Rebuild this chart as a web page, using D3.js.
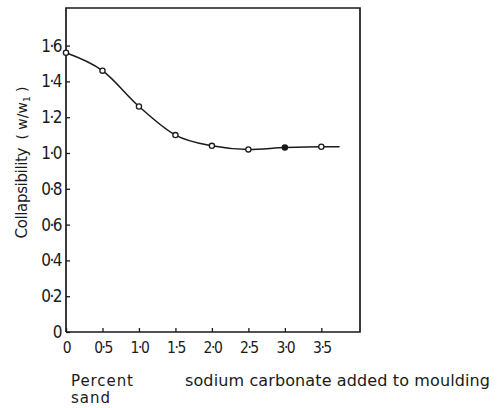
<!DOCTYPE html>
<html>
<head>
<meta charset="utf-8">
<script src="https://cdn.jsdelivr.net/npm/d3@7"></script>
<style>
  html, body { margin: 0; padding: 0; background: #fff; }
  svg text { font-family: "DejaVu Sans", sans-serif; fill: #1a1a1a; }
  svg .tick text { font-family: "DejaVu Sans Condensed", "DejaVu Sans", sans-serif; }
</style>
</head>
<body>
<svg id="chart" width="497" height="408"></svg>
<script>
// Sodium carbonate added (percent of moulding sand) and measured collapsibility
const sodaPercent = [0, 0.5, 1.0, 1.5, 2.0, 2.5, 3.0, 3.5];
const collapsibility = [1.56, 1.46, 1.26, 1.10, 1.04, 1.02, 1.03, 1.035];
// The fitted curve carries on a little past the last measurement
const curveEnd = { x: 3.75, y: 1.035 };

const xTicks = [0, 0.5, 1.0, 1.5, 2.0, 2.5, 3.0, 3.5];
const xTickLabels = ["0", "0\u00B75", "1\u00B70", "1\u00B75", "2\u00B70", "2\u00B75", "3\u00B70", "3\u00B75"];
const yTicks = [0, 0.2, 0.4, 0.6, 0.8, 1.0, 1.2, 1.4, 1.6];
const yTickLabels = ["0", "0\u00B72", "0\u00B74", "0\u00B76", "0\u00B78", "1\u00B70", "1\u00B72", "1\u00B74", "1\u00B76"];

const svg = d3.select("#chart");
const plotLeft = 66, plotRight = 360, plotTop = 8, plotBottom = 332;

const x = d3.scaleLinear().domain([0, 4.03]).range([plotLeft, plotRight]);
const y = d3.scaleLinear().domain([0, 1.81]).range([plotBottom, plotTop]);

const ink = "#1a1a1a";

// Frame: left, top and right sides plus the baseline
svg.append("path")
  .attr("d", `M${plotLeft},${plotBottom}V${plotTop}H${plotRight}V${plotBottom}H${plotLeft}`)
  .attr("fill", "none").attr("stroke", ink).attr("stroke-width", 1.7);

// Y axis with inward ticks
const yAxis = d3.axisLeft(y)
  .tickValues(yTicks)
  .tickSize(-4)
  .tickPadding(5)
  .tickFormat((d, i) => yTickLabels[i]);
const gy = svg.append("g").attr("transform", `translate(${plotLeft},0)`).call(yAxis);
gy.select(".domain").remove();
gy.selectAll(".tick line").attr("stroke", ink).attr("stroke-width", 1.3);
gy.selectAll(".tick text").attr("font-size", 17).attr("fill", ink).attr("letter-spacing", -1.5);

// X axis with inward ticks
const xAxis = d3.axisBottom(x)
  .tickValues(xTicks)
  .tickSize(-4)
  .tickPadding(10)
  .tickFormat((d, i) => xTickLabels[i]);
const gx = svg.append("g").attr("transform", `translate(0,${plotBottom})`).call(xAxis);
gx.select(".domain").remove();
gx.selectAll(".tick line").attr("stroke", ink).attr("stroke-width", 1.3);
gx.selectAll(".tick text").attr("font-size", 15.5).attr("fill", ink).attr("letter-spacing", -1.5);

// Smooth fitted curve
const curvePts = sodaPercent.map((d, i) => ({ x: d, y: collapsibility[i] })).concat([curveEnd]);
const line = d3.line()
  .x(d => x(d.x))
  .y(d => y(d.y))
  .curve(d3.curveMonotoneX);
svg.append("path")
  .datum(curvePts)
  .attr("d", line)
  .attr("fill", "none")
  .attr("stroke", ink)
  .attr("stroke-width", 1.5);

// Measured points as small open circles (the 3.0 % reading is printed solid)
svg.selectAll("circle.pt")
  .data(sodaPercent.map((d, i) => ({ x: d, y: collapsibility[i], solid: d === 3.0 })))
  .join("circle")
  .attr("class", "pt")
  .attr("cx", d => x(d.x))
  .attr("cy", d => y(d.y))
  .attr("r", 2.6)
  .attr("fill", d => d.solid ? ink : "#fff")
  .attr("stroke", ink)
  .attr("stroke-width", 1.3);

// Y axis title, in two pieces with a wide gap between them
svg.append("text")
  .attr("transform", "translate(27,193) rotate(-90)")
  .attr("text-anchor", "middle")
  .attr("font-size", 15)
  .attr("textLength", 91)
  .text("Collapsibility");
const unit = svg.append("text")
  .attr("transform", "translate(27,113) rotate(-90)")
  .attr("text-anchor", "middle")
  .attr("font-size", 14);
unit.append("tspan").text("( w/w");
unit.append("tspan").attr("font-size", 9).attr("dy", 3).text("1");
unit.append("tspan").attr("dy", -3).text(" )");

// X axis title
svg.append("text").attr("x", 71).attr("y", 386).attr("font-size", 15)
  .attr("textLength", 62).text("Percent");
svg.append("text").attr("x", 71).attr("y", 403).attr("font-size", 15)
  .attr("textLength", 39).text("sand");
svg.append("text").attr("x", 185).attr("y", 386).attr("font-size", 16)
  .attr("textLength", 305)
  .text("sodium carbonate added to moulding");
</script>
</body>
</html>
